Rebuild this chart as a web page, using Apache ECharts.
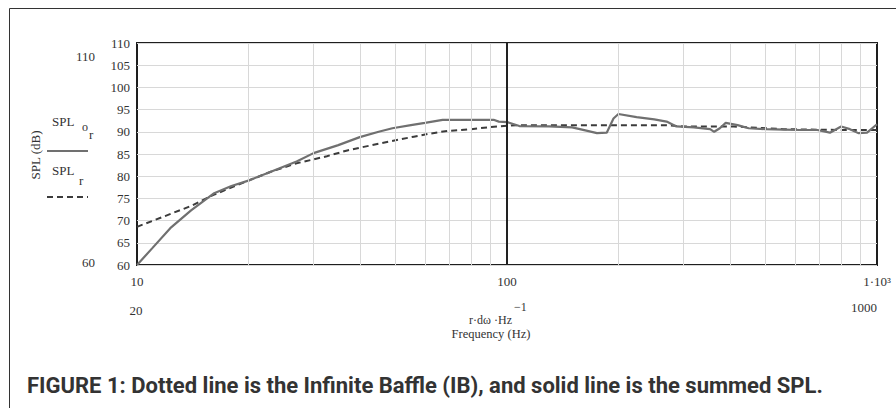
<!DOCTYPE html>
<html>
<head>
<meta charset="utf-8">
<script src="https://cdn.jsdelivr.net/npm/echarts@6/dist/echarts.min.js"></script>
<style>
html,body{margin:0;padding:0;background:#fff;}
#chart{width:896px;height:408px;}
</style>
</head>
<body>
<div id="chart"></div>
<script>
// Summed SPL (solid)
const sumFreq = [10, 11, 12.3, 14, 16.1, 18, 20, 23, 27, 30, 35, 40, 45, 49, 55, 60, 67, 80, 92, 95, 100, 108, 130, 150, 165, 175, 186, 194, 200, 224, 250, 270, 287, 320, 354, 363, 376, 390, 420, 450, 500, 560, 620, 690, 746, 800, 845, 890, 940, 1000];
const sumSpl  = [60, 63.8, 68.3, 72.3, 76.1, 77.8, 79.0, 81.0, 83.3, 85.2, 87.0, 88.8, 90.0, 90.8, 91.5, 92.0, 92.7, 92.7, 92.7, 92.3, 92.2, 91.3, 91.2, 91.0, 90.2, 89.7, 89.8, 93.0, 94.0, 93.3, 92.8, 92.3, 91.2, 91.0, 90.6, 90.0, 90.8, 92.0, 91.5, 90.8, 90.6, 90.5, 90.4, 90.4, 89.8, 91.2, 90.6, 89.7, 89.8, 91.7];
// Infinite baffle (dashed)
const ibFreq = [10, 11.8, 14, 16.1, 20, 23, 27, 32.6, 37, 41, 48, 56, 62, 69, 80, 94, 106, 130, 200, 270, 300, 410, 560, 800, 1000];
const ibSpl  = [68.6, 70.9, 73.3, 75.8, 79.0, 81.0, 82.9, 84.5, 85.8, 86.6, 87.8, 88.9, 89.6, 90.2, 90.6, 91.2, 91.5, 91.5, 91.5, 91.5, 91.2, 91.2, 90.6, 90.4, 90.4];
// Vertical grid line positions (Hz)
const gridFreqs = [20, 30, 40, 50, 60, 70, 80, 90, 200, 300, 400, 500, 600, 700, 800, 900];
const markerFreq = 100;
const yTicks = {min: 60, max: 110, step: 5};

const serif = 'Liberation Serif';
const chart = echarts.init(document.getElementById('chart'), null, {renderer: 'svg'});

const zip = (xs, ys) => xs.map((x, i) => [x, ys[i]]);

chart.setOption({
  animation: false,
  backgroundColor: '#fff',
  grid: {left: 137, top: 43, width: 740, height: 222, show: true, borderColor: '#1e1e1e', borderWidth: 2, backgroundColor: 'transparent'},
  xAxis: {
    type: 'log', logBase: 10, min: 10, max: 1000,
    axisLine: {show: false}, axisTick: {show: false}, splitLine: {show: false},
    axisLabel: {margin: 10, color: '#333', fontFamily: serif, fontSize: 13,
      formatter: v => v >= 1000 ? '1·10³' : String(v)}
  },
  yAxis: {
    type: 'value', min: yTicks.min, max: yTicks.max, interval: yTicks.step,
    axisLine: {show: false}, axisTick: {show: false},
    splitLine: {show: true, lineStyle: {color: '#d8d8d8', width: 1}},
    axisLabel: {margin: 7, color: '#333', fontFamily: serif, fontSize: 13}
  },
  series: [
    {
      type: 'line', name: 'grid', data: [], z: 1, silent: true,
      markLine: {
        silent: true, symbol: ['none', 'none'], animation: false,
        label: {show: false},
        lineStyle: {color: '#d8d8d8', width: 1, type: 'solid'},
        data: gridFreqs.map(f => ({xAxis: f})).concat([{xAxis: markerFreq, lineStyle: {color: '#222', width: 2, type: 'solid'}}])
      }
    },
    {
      type: 'line', name: 'SPL_r', data: zip(ibFreq, ibSpl), z: 3,
      showSymbol: false, symbol: 'none',
      lineStyle: {color: '#3c3c3c', width: 2, type: [6, 4]}
    },
    {
      type: 'line', name: 'SPL_or', data: zip(sumFreq, sumSpl), z: 4,
      showSymbol: false, symbol: 'none',
      lineStyle: {color: '#707070', width: 2.2}
    }
  ],
  graphic: [
    {type: 'rect', silent: true, shape: {x: 9.5, y: 8.5, width: 900, height: 420}, style: {fill: 'none', stroke: '#333', lineWidth: 1}},
    {type: 'text', x: 35, y: 155, rotation: Math.PI / 2, style: {text: 'SPL (dB)', font: '13px ' + serif, fill: '#333', textAlign: 'center', textVerticalAlign: 'middle'}},
    {type: 'text', x: 52, y: 121, style: {text: 'SPL', font: '13px ' + serif, fill: '#333', textAlign: 'left', textVerticalAlign: 'middle'}},
    {type: 'text', x: 82, y: 127, style: {text: 'o', font: '12px ' + serif, fill: '#333', textAlign: 'left', textVerticalAlign: 'middle'}},
    {type: 'text', x: 89, y: 134, style: {text: 'r', font: '13px ' + serif, fill: '#333', textAlign: 'left', textVerticalAlign: 'middle'}},
    {type: 'line', shape: {x1: 47, y1: 151, x2: 88, y2: 151}, style: {stroke: '#707070', lineWidth: 2}},
    {type: 'text', x: 52, y: 170, style: {text: 'SPL', font: '13px ' + serif, fill: '#333', textAlign: 'left', textVerticalAlign: 'middle'}},
    {type: 'text', x: 79, y: 180, style: {text: 'r', font: '13px ' + serif, fill: '#333', textAlign: 'left', textVerticalAlign: 'middle'}},
    {type: 'line', shape: {x1: 47, y1: 197, x2: 88, y2: 197}, style: {stroke: '#3c3c3c', lineWidth: 2, lineDash: [6, 4]}},
    {type: 'text', x: 95, y: 56, style: {text: '110', font: '13px ' + serif, fill: '#333', textAlign: 'right', textVerticalAlign: 'middle'}},
    {type: 'text', x: 95, y: 262, style: {text: '60', font: '13px ' + serif, fill: '#333', textAlign: 'right', textVerticalAlign: 'middle'}},
    {type: 'text', x: 136, y: 310, style: {text: '20', font: '13px ' + serif, fill: '#333', textAlign: 'center', textVerticalAlign: 'middle'}},
    {type: 'text', x: 864, y: 307, style: {text: '1000', font: '13px ' + serif, fill: '#333', textAlign: 'center', textVerticalAlign: 'middle'}},
    {type: 'text', x: 512, y: 320, style: {text: 'r·dω ·Hz', font: '12px ' + serif, fill: '#333', textAlign: 'right', textVerticalAlign: 'middle'}},
    {type: 'text', x: 514, y: 307, style: {text: '−1', font: '12px ' + serif, fill: '#333', textAlign: 'left', textVerticalAlign: 'middle'}},
    {type: 'text', x: 491, y: 334, style: {text: 'Frequency (Hz)', font: '12.5px ' + serif, fill: '#333', textAlign: 'center', textVerticalAlign: 'middle'}},
    {type: 'text', x: 27, y: 385, style: {text: 'FIGURE 1: Dotted line is the Infinite Baffle (IB), and solid line is the summed SPL.', font: 'bold 22px Roboto', fill: '#333', textAlign: 'left', textVerticalAlign: 'middle'}}
  ]
});
</script>
</body>
</html>
